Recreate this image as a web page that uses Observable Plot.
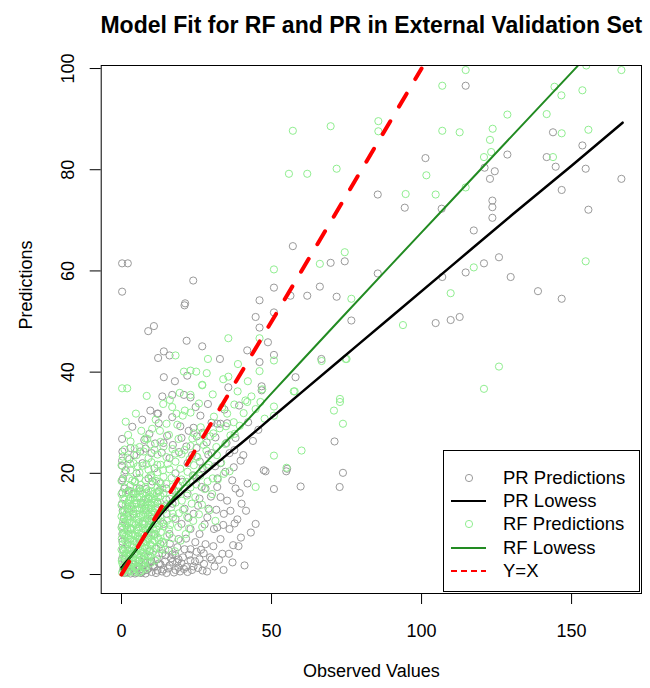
<!DOCTYPE html>
<html>
<head>
<meta charset="utf-8">
<script src="https://cdn.jsdelivr.net/npm/d3@7"></script>
<script src="https://cdn.jsdelivr.net/npm/@observablehq/plot@0.6"></script>
<style>
  html, body { margin: 0; padding: 0; background: #fff; }
  #wrap { position: relative; width: 650px; height: 688px; font-family: "Liberation Sans", Arial, sans-serif; }
  #legend { position: absolute; left: 443px; top: 450px; width: 197px; height: 142px; border: 1px solid #000; background: #fff; box-sizing: border-box; padding-top: 15px; }
  .row { display: flex; align-items: center; height: 23.3px; font-size: 18.5px; color: #000; }
  .row svg { margin-left: 6px; width: 40px; height: 20px; }
  .row span { margin-left: 13px; white-space: nowrap; }
</style>
</head>
<body>
<div id="wrap">
  <div id="chart"></div>
  <div id="legend"></div>
</div>
<script>
// ---- texts ----
const titleText = "Model Fit for RF and PR in External Validation Set";
const xLabel = "Observed Values";
const yLabel = "Predictions";
const xTicks = [0, 50, 100, 150];
const yTicks = [0, 20, 40, 60, 80, 100];
const legendLabels = ["PR Predictions", "PR Lowess", "RF Predictions", "RF Lowess", "Y=X"];

// ---- PR (gray) predictions: [observed, predicted] ----
const prPoints = [
  [114.7,96.6],[101.3,82.3],[85.4,75.1],[94.4,72.5],[106.7,72.3],[57.1,64.9],[69.7,61.6],[74.4,61.9],
  [56.3,55.1],[61.9,55.1],[66.1,56.9],[71.7,54.9],[85.4,59.5],[76.6,50.2],[66.6,42.6],[58,39],
  [104.7,49.7],[109.7,50.3],[112.7,50.9],[106.9,58.8],[114.7,59.7],[117.4,68],[120.8,61.5],[125.8,62.7],
  [129.7,58.8],[123.6,73.9],[123.6,72.6],[123.6,70.5],[122.8,78.2],[124.4,79.7],[128.6,83],[121,80.4],
  [138.8,56],[146.7,54.5],[141.7,82.5],[143.8,87.4],[144.7,80.6],[146.7,76],[153.6,84.8],[154.7,80.2],
  [155.6,72.1],[166.6,78.2],
  [50.8,56.7],[46,54.2],[50.8,51.8],[44.7,50.9],[46,48.8],[48.8,45.9],[41.9,44.3],[50.8,43.4],[46,42],
  [46.7,36.4],[46.7,37.2],[71,26.3],[73.8,20.1],[48,20.4],[54.9,20.4],[39.7,22.5],[50.8,16.9],[59.7,17.4],
  [72.7,17.3],[0.2,61.5],[2.1,61.5],[0.2,55.9],[23.9,58.1],[21,53.2],[21.2,53.6],[8.9,48.1],[10.8,49.1],
  [21.7,46.2],[26.9,45.1],[14.1,44.1],[12.2,42.8],[16,43.3],[32.8,42.6],[14.1,39],[21.9,39.3],[16.9,35.5],
  [20.8,35.5],[24.7,33.1],[28.8,33.7],[12.2,31.8],[16.9,31.1],[26.3,31.4],[33,29.8],[35.2,29.9],[12.4,29.9],
  [35.6,37],[0.2,22.5],[0.2,21.5],[8,24.9],[11.9,31.8],[23,35],[31.9,29.8],[47.4,20.6],[55.2,20.9],
  [44.7,10],[37.7,10.1],[31.9,9.3],[30.8,9],[35.8,4.1],[20.8,1.1],[14.7,3.8],[15.8,4.7],[28.6,11.3],
  [34.1,12],[33,15.3],[35.2,14.6],[31.9,17.3],[37.4,21.2],
  [1,0.3],[2,0.5],[3,0.2],[4,0.8],[5,0.4],[6,1.0],[7,0.6],[8,0.2],[9,1.2],[10,0.5],[11,1.5],[12,0.8],
  [13,2.0],[14,1.0],[15,0.3],[16,1.8],[17,2.5],[18,0.9],[19,1.4],[20,2.2],[22,0.5],[23,2.8],[24,1.6],
  [26,3.0],[27,0.8],[25,4.5],[21,5.0],[18,3.8],[12,3.0],[10,2.6],[8,2.2],[6,2.8],[4,2.0],[2,1.8],[1,3.0],
  [3,4.0],[0.5,5],[0.3,8],[0.8,11],[0.2,14],[1,17],[0.5,19],[2,6],[3,9],[4,12],[5,14],[6,7],[7,10],
  [8,13],[9,15],[10,11],[11,8],[12,14],[13,6],[14,10],[15,12],[16,8],[17,14],[18,11],[19,7],[20,10],
  [21,13],[22,16],[23,9],[24,12],[25,19],[26,15],[27,21],[28,17],[29,13],[30,24],[32,19],[33,22],[35,26],
  [36,24],[38,17],[25,25],[22,22],[20,27],[18,20],[16,23],[14,26],[13,18],[11,21],[10,24],[9,19],[7,22],
  [6,17],[5,20],[3,25],[4,16],[2,13],[15,17],[17,4],[19,3],[23,5],[28,6],[30,3],[26,8],[33,7],[36,9],
  [40,14],[42,18],[38,27],[27,28],[30,30],[24,29],
  [0.5,0.9],[1.5,1.3],[2.5,0.8],[3.5,1.5],[4.5,0.2],[5.5,1.7],[6.5,0.3],[7.5,1.8],[8.5,0.9],[9.5,2.4],
  [10.5,1.6],[11.5,0.3],[12.5,2.2],[13.5,0.6],[14.5,2.6],[15.5,1.2],[16.5,3.2],[17.5,0.4],[18.5,2.4],
  [19.5,0.6],[20.5,3.4],[21.5,1.5],[22.5,3.9],[23.5,0.9],[24.5,2.6],[25.5,1.3],[26.5,4.9],[27.5,2.1],
  [28.5,0.6],[29.5,3.4],[31,1.6],[32.5,2.9],[34,0.9],[37,2.4],[39,5.6],[41,1.8],
  [0.2,3.1],[0.3,6.5],[0.2,9.6],[0.4,12.6],[0.3,16.2],[0.2,18.6],[0.3,24.3],[0.2,26.8],[1.4,20.6],
  [2.6,22.8],[4.2,23.6],[6.2,24.3],[7.6,26.6],[9.3,27.8],[11.2,25.9],[13.4,24.1],[15.2,27.4],[17.1,25.6],
  [19.2,24.2],[21.6,25.3],[23.5,23.6],[26.1,22.3],[28.9,23.7],[31.2,21.4],[34.6,20.3],[36.9,18.6],
  [39.4,16.1],[41.5,12.6],[43.1,8.3],[39.8,7.3],[37.2,5.8],[33.6,4.1],[30.6,5.6],[27.4,4.2],[24.6,6.4],
  [21.5,7.1],[18.6,5.4],[16.1,6.1],[13.6,4.2],[11.6,5.1],[9.4,4.6],[7.6,3.6],[22.3,11.2],[25.5,13.6],
  [27.7,9.9],[29.8,15.4],[31.6,12.8],[33.9,9.8],[36.3,12.6],[38.6,10.9],[26.7,17.3],[23.8,19.6],
  [20.4,18.3],[17.6,16.6],[14.9,14.8],[12.4,16.4],[10.3,18.4],[8.2,16.9],[6.6,14.2],[4.4,18.3],
  [2.4,16.6],[3.6,29.2],[6.9,30.6],[9.6,32.4],[13.6,35.2],[17.8,38.2],[19.6,29.3],[22.4,28.4],
  [25.1,27.3],[28.4,26.1],[31.3,27.1],[34.3,32.6],[37.6,24.6],[40.6,23.6],[43.8,26.4],[45.6,28.6],
  [42.2,30.1],[39.2,33.4]
];

// ---- RF (green) predictions: [observed, predicted] ----
const rfPoints = [
  [114.7,99.7],[106.9,96.6],[57.1,87.7],[69.7,88.6],[85.6,89.6],[85.6,87.6],[106.9,87.7],[112.7,87.4],
  [55.8,79.2],[61.9,79.2],[71.7,80.2],[101.6,78.9],[94.7,75.2],[104.7,75.1],[128.6,90.9],[123.7,88.1],
  [122.8,85.9],[120.8,82.5],[123.2,83.5],[114.7,76.5],[144.3,96.4],[146.6,94.7],[153.6,95.7],[154.9,100.6],
  [166.6,99.7],[141.7,91],[146.7,87.2],[155.6,87.9],[143.8,82.5],[154.7,61.9],[74.4,63.7],[66.1,61.4],
  [76.6,54.5],[109.7,55.6],[117.4,60.7],[93.8,49.3],[75,42.6],[125.8,41.1],[120.8,36.7],[57.7,36.2],
  [72.8,34.7],
  [50.8,60.3],[46,46.7],[50.8,42.3],[46,40.2],[66.7,42.2],[74.7,42.6],[46.9,36.6],[41.9,34.1],[44.7,32.7],
  [50.8,33.2],[57.4,36.2],[50.8,31.4],[47.7,30.8],[70.8,32.4],[72.8,34.1],[73.8,29.8],[60,24.5],[50.8,23.5],
  [55,21.1],[44.7,17.3],
  [0.2,36.8],[1.9,36.8],[35.6,46.7],[18,43.3],[28.8,42.6],[20.8,40.1],[23,40.3],[24.9,40.1],[35.6,39.1],
  [26.9,37.5],[23,35.5],[16.1,34.5],[16.9,33.1],[21.1,32.4],[23,32],[18.3,31.8],[35.2,31.8],[15,29.8],
  [10.2,28.8],[24.1,27.9],[30.6,27.9],[37.4,30.1],[27.4,27.7],[8.6,26.8],
  [26.9,37.4],[41.3,34.4],[46.3,34.1],[37.7,27.8],[34.1,19.9],[3.6,18.6],[9.7,19.6],
  [0.2,0.4],[1.1,0.8],[2.0,0.3],[3.2,0.9],[4.1,0.5],[5.3,1.0],[6.4,0.6],[8.1,1.1],
  [0.6,1.6],[1.5,2.0],[2.7,1.5],[3.6,2.1],[5.0,1.7],[6.6,2.2],[7.9,1.6],[9.8,2.3],
  [0.1,2.7],[1.2,3.1],[2.2,2.6],[3.1,3.2],[4.6,2.8],[6.0,3.3],[7.4,2.9],[9.1,3.4],[11.2,2.8],
  [0.5,3.8],[1.6,4.2],[3.0,3.7],[4.4,4.3],[5.9,3.9],[7.1,4.4],[8.8,3.8],[10.6,4.5],[12.3,3.9],
  [0.0,4.9],[1.1,5.3],[2.5,4.8],[3.9,5.4],[5.4,5.0],[6.9,5.5],[8.5,5.1],[10.1,5.6],[13.2,5.0],
  [0.4,6.0],[2.0,6.4],[3.5,5.9],[5.0,6.5],[6.4,6.1],[8.0,6.6],[9.6,6.0],[11.0,6.7],[14.1,6.2],
  [0.1,7.1],[1.4,7.5],[3.0,7.0],[4.6,7.6],[6.1,7.2],[7.6,7.7],[9.0,7.1],[10.6,7.8],[12.1,7.3],[15.2,7.6],
  [0.6,8.2],[2.1,8.6],[3.6,8.1],[5.1,8.7],[6.6,8.3],[8.1,8.8],[10.1,8.2],[11.6,8.9],[13.1,8.4],
  [0.0,9.3],[1.5,9.7],[3.1,9.2],[4.6,9.8],[6.1,9.4],[7.6,9.9],[9.1,9.3],[11.1,10.0],[14.1,9.5],[16.2,9.8],
  [0.5,10.4],[2.0,10.8],[3.5,10.3],[5.1,10.9],[7.0,10.5],[8.5,11.0],[10.0,10.4],[12.1,11.1],[15.1,10.6],
  [0.0,11.5],[1.5,11.9],[3.0,11.4],[5.0,12.0],[6.5,11.6],[8.0,12.1],[9.5,11.5],[11.0,12.2],[13.0,11.7],[17.1,12.0],
  [1.0,12.6],[2.5,13.0],[4.0,12.5],[6.0,13.1],[7.5,12.7],[9.0,13.2],[10.5,12.6],[12.0,13.3],[14.0,12.8],
  [0.0,13.7],[2.0,14.1],[3.5,13.6],[5.0,14.2],[7.0,13.8],[8.5,14.3],[10.0,13.7],[12.0,14.4],[15.0,13.9],[18.0,14.2],
  [1.0,14.8],[3.0,15.2],[4.5,14.7],[6.0,15.3],[8.0,14.9],[9.5,15.4],[11.0,14.8],[13.0,15.5],[16.0,15.0],
  [0.0,15.9],[2.0,16.3],[4.0,15.8],[5.5,16.4],[7.0,16.0],[9.0,16.5],[10.5,15.9],[12.5,16.6],[14.0,16.1],[19.0,16.4],
  [1.0,17.2],[3.0,17.6],[5.0,17.1],[6.5,17.7],[8.0,17.3],[10.0,17.8],[12.0,17.2],[15.0,17.9],[17.0,17.4],
  [0.0,18.5],[2.5,19.0],[4.5,18.4],[6.0,19.1],[8.0,18.6],[10.0,19.2],[11.5,18.5],[14.0,19.3],[20.0,18.8],
  [1.0,20.0],[3.0,20.6],[6.0,20.1],[9.0,20.7],[12.0,20.2],[16.0,20.8],[22.0,20.3],
  [0.0,21.6],[4.0,22.0],[7.0,21.5],[10.0,22.2],[13.0,21.7],[18.0,22.3],
  [2.0,23.1],[5.0,23.6],[9.0,23.0],[12.0,23.7],[15.0,23.2],[20.0,23.8],[25.0,23.3],
  [1.0,24.7],[6.0,25.2],[11.0,24.6],[14.0,25.3],[17.0,24.8],[23.0,25.4],
  [3.0,26.3],[8.0,26.9],[13.0,26.2],[19.0,26.8],[26.0,26.4],
  [13.5,6.5],[15.8,8.9],[17.2,11.3],[18.9,9.4],[20.5,12.8],[21.8,15.6],[23.4,14.0],[24.9,17.8],[26.2,19.5],
  [27.7,16.9],[29.1,21.7],[30.4,19.0],[31.8,23.6],[33.2,22.1],[34.6,25.8],[36.0,20.4],[28.3,24.5],[24.1,21.6],
  [19.7,6.7],[22.5,9.1],[17.8,4.6],[25.8,11.9],
  [0.8,0.9],[1.7,1.2],[2.9,0.7],[4.5,1.3],[5.8,0.4],[7.2,1.4],[0.3,2.2],[2.2,2.1],[4.0,2.4],[5.6,2.6],
  [7.0,2.0],[8.6,2.7],[1.0,3.5],[2.6,3.9],[4.0,3.4],[5.2,4.0],[6.6,3.6],[8.2,4.1],[9.6,3.7],[0.7,4.6],
  [2.0,5.0],[3.3,4.6],[4.8,5.2],[6.2,4.7],[7.8,5.3],[9.3,4.8],[11.4,5.3],[1.2,6.7],[2.7,6.9],[4.3,6.6],
  [5.7,6.9],[7.3,6.4],[8.8,6.9],[10.3,6.3],[12.5,6.8],[0.9,7.9],[2.3,7.7],[3.9,7.9],[5.4,7.6],[6.9,7.9],
  [8.4,7.5],[9.9,7.7],[11.4,8.0],[0.4,8.9],[1.9,9.2],[3.4,8.9],[5.6,9.3],[7.2,9.1],[8.8,8.9],[10.4,9.1],
  [12.6,9.6],[1.1,10.1],[2.7,10.3],[4.2,10.1],[5.8,10.3],[7.6,10.2],[9.2,10.7],[11.0,10.6],[13.6,10.3],
  [0.7,11.2],[2.3,11.5],[3.9,11.8],[5.7,11.4],[7.2,11.9],[8.8,11.7],[10.3,11.8],[12.1,12.0],[0.5,12.3],
  [1.9,12.4],[3.3,12.9],[5.3,12.7],[6.8,13.2],[8.3,12.6],[9.8,13.0],[11.3,13.1],[13.4,13.4],[1.4,13.8],
  [2.8,13.5],[4.4,13.9],[6.4,14.0],[7.9,13.6],[9.4,14.1],[11.1,14.2],[0.6,15.0],[2.4,14.6],[3.8,15.1],
  [5.2,15.2],[7.4,14.7],[8.9,15.1],[10.4,15.0],[12.2,15.3],[1.5,16.1],[3.4,16.4],[4.8,16.0],[6.4,16.6],
  [8.3,16.2],[9.8,16.4],[11.8,16.1],[13.6,17.0],
  [12.6,18.3],[13.8,20.6],[15.4,21.9],[16.7,19.1],[17.9,23.9],[18.9,17.6],[19.6,20.9],[21.0,24.6],
  [21.6,18.3],[22.7,22.8],[23.6,26.9],[24.3,19.5],[25.3,23.2],[26.4,29.1],[27.4,25.6],[28.6,21.1],
  [29.6,27.3],[30.8,31.2],[31.6,25.2],[32.7,28.9],[33.6,33.1],[34.8,29.3],[36.3,27.5],[37.6,33.6],
  [38.7,36.2],[39.4,29.4],[40.7,31.9],[42.1,38.2],[43.3,35.2],[16.6,13.3],[18.3,15.7],[20.1,14.6],
  [21.9,11.4],[23.0,17.2],[24.6,15.3],[26.8,13.8],[28.7,18.4],[30.2,15.9],[32.1,18.8],[14.6,4.9],
  [16.9,7.2],[19.1,12.1],[21.4,8.0],[23.9,10.6],[26.9,9.4],[29.3,12.7],[31.3,10.6],[11.9,21.7],
  [8.3,21.8],[5.4,21.4],[2.9,21.9],[0.4,23.3],[7.4,24.3],[4.4,24.9],[9.7,25.7],[12.8,28.4],[15.8,27.6],
  [18.6,29.6],[20.4,31.4],[11.4,30.6],[6.6,28.4],[2.2,27.6],[1.4,30.2],[4.8,31.8],[13.9,33.7],[19.4,35.9],
  [25.8,33.8],[8.4,35.3],[30.4,35.6],[33.9,38.6],[28.4,39.8],[38.8,41.6]
];

// ---- lowess curves ----
const prLowX = [0, 2, 5, 8, 10, 13, 16, 20, 25, 30, 35, 40, 50, 60, 73, 90, 110, 130, 150, 167];
const prLowY = [1.4, 2.8, 5.0, 7.8, 9.5, 11.8, 13.8, 16.0, 18.6, 21.1, 23.6, 26.0, 31.0, 36.0, 42.5, 51.0, 61.0, 71.0, 80.8, 89.3];
const rfLowX = [0, 2, 5, 8, 10, 13, 16, 20, 25, 30, 35, 40, 50, 60, 73, 90, 106, 130, 152];
const rfLowY = [1.0, 2.6, 5.2, 8.0, 9.8, 12.2, 14.3, 17.0, 20.2, 23.3, 26.4, 29.3, 35.8, 42.2, 50.5, 61.3, 71.4, 86.6, 100.5];
const yxX = [0, 100];

const prLow = prLowX.map((x, i) => ({x, y: prLowY[i]}));
const rfLow = rfLowX.map((x, i) => ({x, y: rfLowY[i]}));
const yx = yxX.map(x => ({x, y: x}));

const font = "'Liberation Sans', Arial, Helvetica, sans-serif";

const chart = Plot.plot({
  width: 650,
  height: 688,
  marginLeft: 100.7,
  marginRight: 9,
  marginTop: 65,
  marginBottom: 95,
  style: {fontFamily: font, fontSize: "18px", color: "#000", background: "#fff", overflow: "visible"},
  x: {domain: [-6.77, 173.3]},
  y: {domain: [-3.75, 100.6]},
  marks: [
    Plot.dot(prPoints, {x: d => d[0], y: d => d[1], r: 3.6, stroke: "#9a9a9a", strokeWidth: 1, fill: "none", clip: "frame"}),
    Plot.dot(rfPoints, {x: d => d[0], y: d => d[1], r: 3.6, stroke: "#90EE90", strokeWidth: 1, fill: "none", clip: "frame"}),
    Plot.line(prLow, {x: "x", y: "y", stroke: "#000", strokeWidth: 2.5, curve: "monotone-x", clip: "frame"}),
    Plot.line(rfLow, {x: "x", y: "y", stroke: "#228B22", strokeWidth: 2, curve: "monotone-x", clip: "frame"}),
    Plot.line(yx, {x: "x", y: "y", stroke: "#ff0000", strokeWidth: 4, strokeDasharray: "15,17", strokeLinecap: "round", clip: "frame"}),
    Plot.frame({stroke: "#000", strokeWidth: 1}),
    Plot.axisX({ticks: xTicks, tickSize: 11, tickPadding: 20, fontSize: 18, label: null}),
    Plot.axisY({ticks: yTicks, tickSize: 11, tickPadding: 16.7, tickRotate: -90, fontSize: 18, label: null}),
    Plot.text([xLabel], {frameAnchor: "bottom", dy: 83, fontSize: 18, lineAnchor: "bottom", text: d => d}),
    Plot.text([yLabel], {frameAnchor: "left", dx: -69.7, rotate: -90, fontSize: 18, lineAnchor: "bottom", text: d => d}),
    Plot.text([titleText], {frameAnchor: "top", dy: -33, fontSize: 23, fontWeight: "bold", lineAnchor: "bottom", text: d => d})
  ]
});
document.getElementById("chart").appendChild(chart);

// ---- legend ----
const legendSymbols = [
  '<circle cx="19" cy="10" r="3.6" fill="none" stroke="#9a9a9a" stroke-width="1"/>',
  '<line x1="1" y1="10" x2="36" y2="10" stroke="#000" stroke-width="2"/>',
  '<circle cx="19" cy="10" r="3.6" fill="none" stroke="#90EE90" stroke-width="1"/>',
  '<line x1="1" y1="10" x2="36" y2="10" stroke="#228B22" stroke-width="2"/>',
  '<line x1="1" y1="10" x2="36" y2="10" stroke="#ff0000" stroke-width="2" stroke-dasharray="6,4"/>'
];
const legend = document.getElementById("legend");
legendLabels.forEach((lab, i) => {
  const row = document.createElement("div");
  row.className = "row";
  row.innerHTML = `<svg viewBox="0 0 40 20">${legendSymbols[i]}</svg><span>${lab}</span>`;
  legend.appendChild(row);
});
</script>
</body>
</html>
